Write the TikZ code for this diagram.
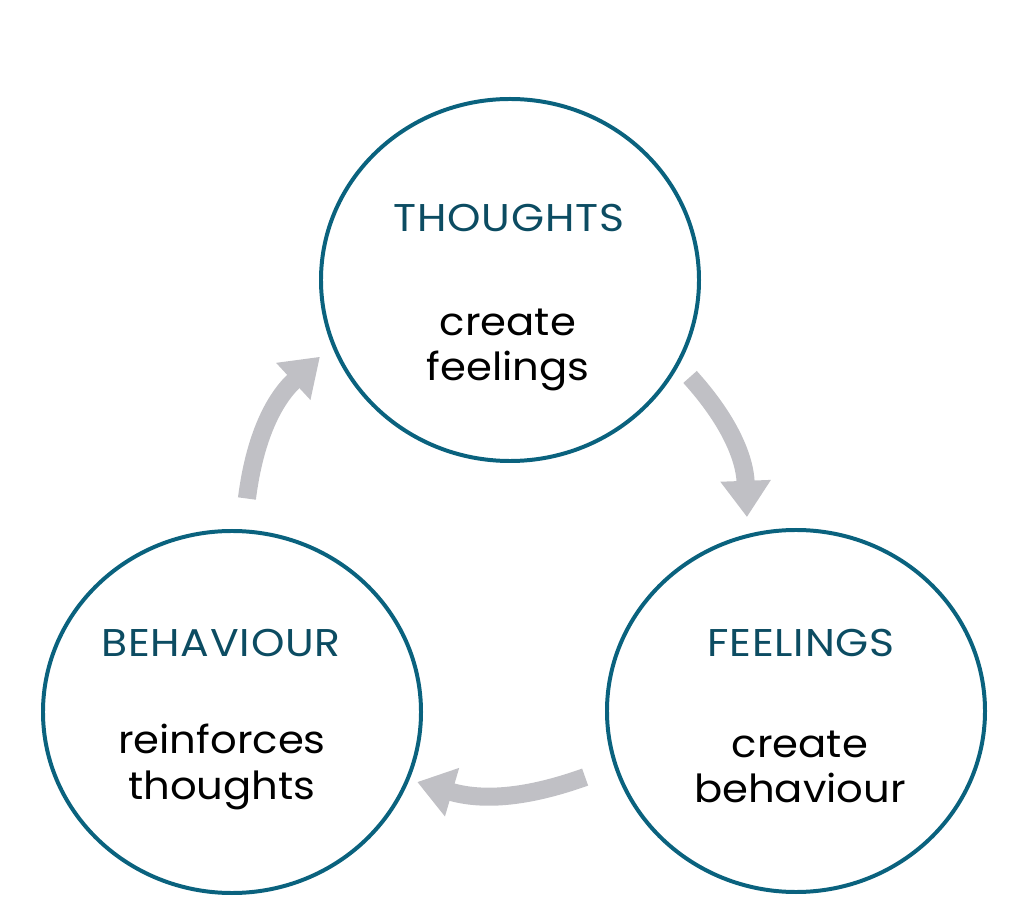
\documentclass[tikz,border=0pt]{standalone}
\usepackage{fontspec}
\setmainfont{Poppins}
\usepackage{tikz}
\usetikzlibrary{positioning, calc, arrows.meta, shapes.geometric}

\definecolor{ringteal}{RGB}{10,98,126}
\definecolor{titleteal}{RGB}{12,76,98}
\definecolor{arrowgray}{RGB}{192,192,197}

\begin{document}
\begin{tikzpicture}[x=0.03cm, y=0.03cm,
    bubble/.style={draw=ringteal, line width=3.4pt, ellipse, inner sep=0pt,
        minimum width=11.34cm, minimum height=10.86cm},
    heading/.style={text=titleteal, inner sep=0pt,
        font=\fontsize{33}{36}\selectfont\addfontfeature{FakeStretch=1.1, LetterSpace=2}},
    caption/.style={text=black, inner sep=0pt, align=center,
        font=\fontsize{33}{39}\selectfont\addfontfeature{FakeStretch=1.08}},
    loopArrow/.style={arrowgray, line width=15.4pt, -{Triangle[width=41pt, length=31pt]}}]
    \useasboundingbox (0,0) rectangle (1024,910);

    % circles
    \node[bubble] (thoughts) at (510,630) {};
    \node[bubble] (feelings) at (796,199) {};
    \node[bubble] (behaviour) at (232,198) {};

    % texts
    \node[heading] (thoughts-title) at (509,692) {THOUGHTS};
    \node[caption] (thoughts-text) at (508,560) {create\\feelings};
    \node[heading] (feelings-title) at (801,267) {FEELINGS};
    \node[caption] (feelings-text) at (800,143) {create\\behaviour};
    \node[heading] (behaviour-title) at (221,267) {BEHAVIOUR};
    \node[caption] (behaviour-text) at (222,143) {reinforces\\thoughts};

    % arrow ends
    \coordinate (t-out) at ($(thoughts.center)+(-28.3:204.5)$);
    \coordinate (f-in) at ($(feelings.center)+(104.2:200)$);
    \coordinate (f-out) at ($(feelings.center)+(197.4:221)$);
    \coordinate (b-in) at ($(behaviour.center)+(-20.7:198)$);
    \coordinate (b-out) at ($(behaviour.center)+(86:214)$);
    \coordinate (t-in) at ($(thoughts.center)+(202:205)$);

    % cycle arrows
    \draw[loopArrow] (t-out) to[bend left=20] (f-in);
    \draw[loopArrow] (f-out) to[bend left=18] (b-in);
    \draw[loopArrow] (b-out) to[bend left=20] (t-in);
\end{tikzpicture}
\end{document}
